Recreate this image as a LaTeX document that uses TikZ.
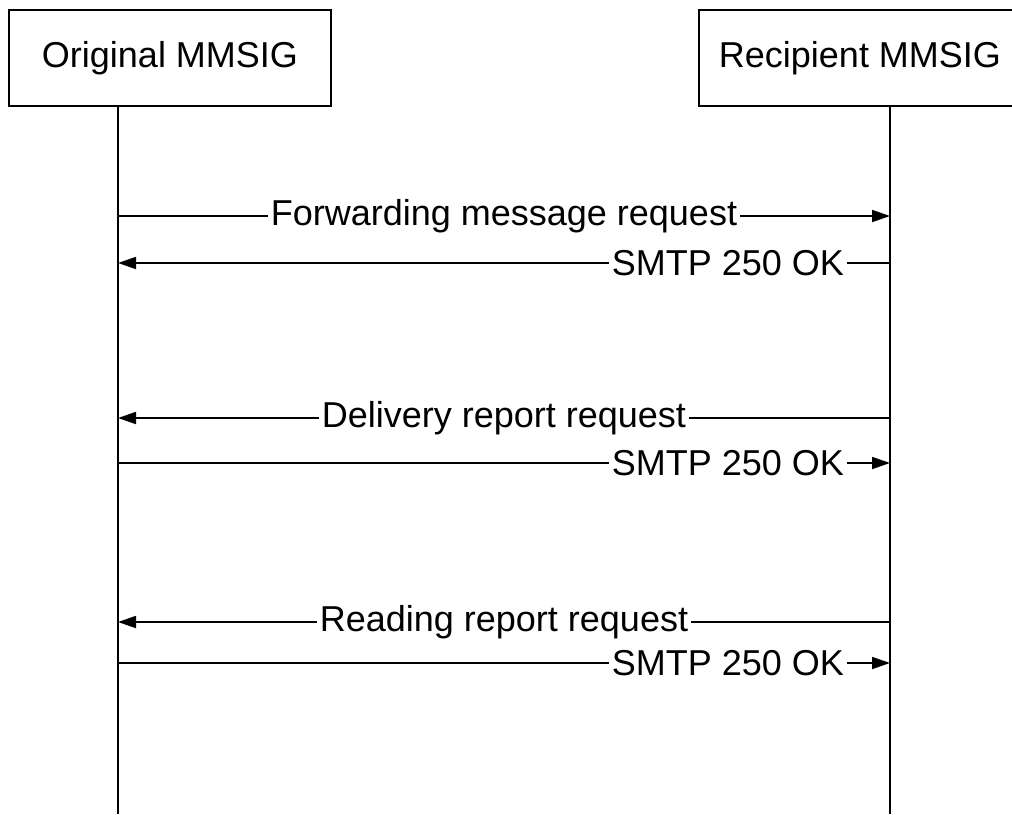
\documentclass[tikz,border=0pt]{standalone}
\usepackage{fontspec}
\setmainfont{Liberation Sans}
\usetikzlibrary{arrows.meta}
\begin{document}
\begin{tikzpicture}[x=0.5pt,y=-0.5pt,
  every node/.style={font=\fontsize{18pt}{21pt}\selectfont},
  entity/.style={draw,line width=1pt,minimum width=161pt,minimum height=48pt,inner sep=0pt},
  life/.style={line width=1pt},
  msg/.style={line width=0.9pt,-{Triangle[length=9pt,width=6pt]}},
  lbl/.style={fill=white,inner xsep=1.5pt,inner ysep=1pt}]
\useasboundingbox (0,0) rectangle (1012,814);
\node[entity] (A) at (170,58) {Original MMSIG};
\node[entity] (B) at (860,58) {Recipient MMSIG};
\coordinate (Aend) at (118,814);
\coordinate (Bend) at (890,814);
\draw[life] (A.south -| Aend) -- (Aend);
\draw[life] (B.south -| Bend) -- (Bend);
% message coordinates
\coordinate (L1) at (118,216); \coordinate (R1) at (890,216);
\coordinate (L2) at (118,263); \coordinate (R2) at (890,263);
\coordinate (L3) at (118,418); \coordinate (R3) at (890,418);
\coordinate (L4) at (118,463); \coordinate (R4) at (890,463);
\coordinate (L5) at (118,622); \coordinate (R5) at (890,622);
\coordinate (L6) at (118,663); \coordinate (R6) at (890,663);
\draw[msg] (L1) -- node[lbl,pos=0.5] (m1) {Forwarding message request} (R1);
\draw[msg] (R2) -- node[lbl,pos=0.21] (m2) {SMTP 250 OK} (L2);
\draw[msg] (R3) -- node[lbl,pos=0.5] (m3) {Delivery report request} (L3);
\draw[msg] (L4) -- node[lbl,pos=0.79] (m4) {SMTP 250 OK} (R4);
\draw[msg] (R5) -- node[lbl,pos=0.5] (m5) {Reading report request} (L5);
\draw[msg] (L6) -- node[lbl,pos=0.79] (m6) {SMTP 250 OK} (R6);
\end{tikzpicture}
\end{document}
